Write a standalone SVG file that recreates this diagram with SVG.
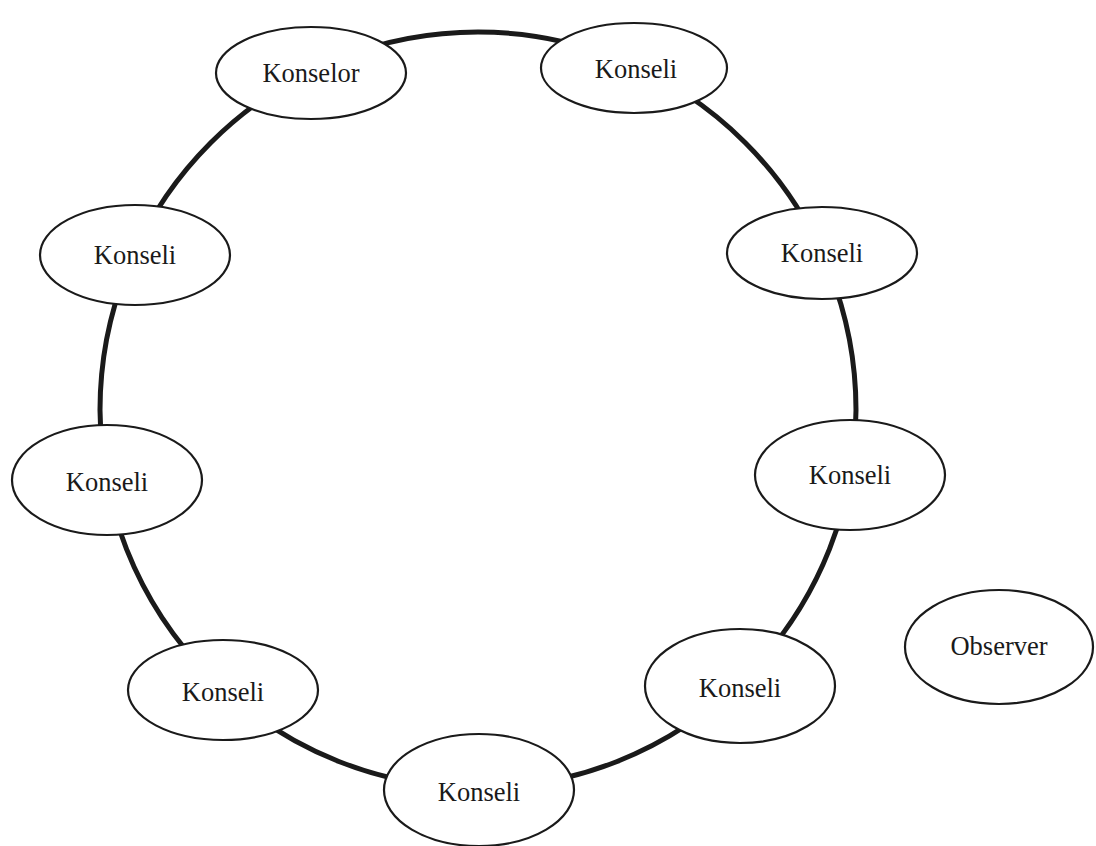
<svg xmlns="http://www.w3.org/2000/svg" width="1096" height="846" viewBox="0 0 1096 846">
<style>
.node ellipse{fill:#fff;stroke:#1a1a1a;stroke-width:2.2}
.node text{font-family:"Liberation Serif","Times New Roman",serif;font-size:26.5px;fill:#1a1a1a;text-anchor:middle}
.conn{fill:none;stroke:#1a1a1a;stroke-width:5}
</style>
<rect width="1096" height="846" fill="#fff"/>
<g id="connectors">
<circle class="conn" cx="478" cy="410" r="378"/>
</g>
<g id="konselor" class="node"><ellipse cx="311" cy="73" rx="95" ry="46"/><text x="311" y="82">Konselor</text></g>
<g id="konseli-1" class="node"><ellipse cx="634" cy="68" rx="93" ry="45"/><text x="636" y="78">Konseli</text></g>
<g id="konseli-2" class="node"><ellipse cx="822" cy="253" rx="95" ry="46"/><text x="822" y="262">Konseli</text></g>
<g id="konseli-3" class="node"><ellipse cx="850" cy="475" rx="95" ry="55"/><text x="850" y="484">Konseli</text></g>
<g id="konseli-4" class="node"><ellipse cx="740" cy="686" rx="95" ry="57"/><text x="740" y="697">Konseli</text></g>
<g id="konseli-5" class="node"><ellipse cx="479" cy="790" rx="95" ry="56"/><text x="479" y="801">Konseli</text></g>
<g id="konseli-6" class="node"><ellipse cx="223" cy="690" rx="95" ry="50"/><text x="223" y="701">Konseli</text></g>
<g id="konseli-7" class="node"><ellipse cx="107" cy="480" rx="95" ry="55"/><text x="107" y="491">Konseli</text></g>
<g id="konseli-8" class="node"><ellipse cx="135" cy="255" rx="95" ry="50"/><text x="135" y="264">Konseli</text></g>
<g id="observer" class="node"><ellipse cx="999" cy="647" rx="94" ry="57"/><text x="999" y="655">Observer</text></g>
</svg>
